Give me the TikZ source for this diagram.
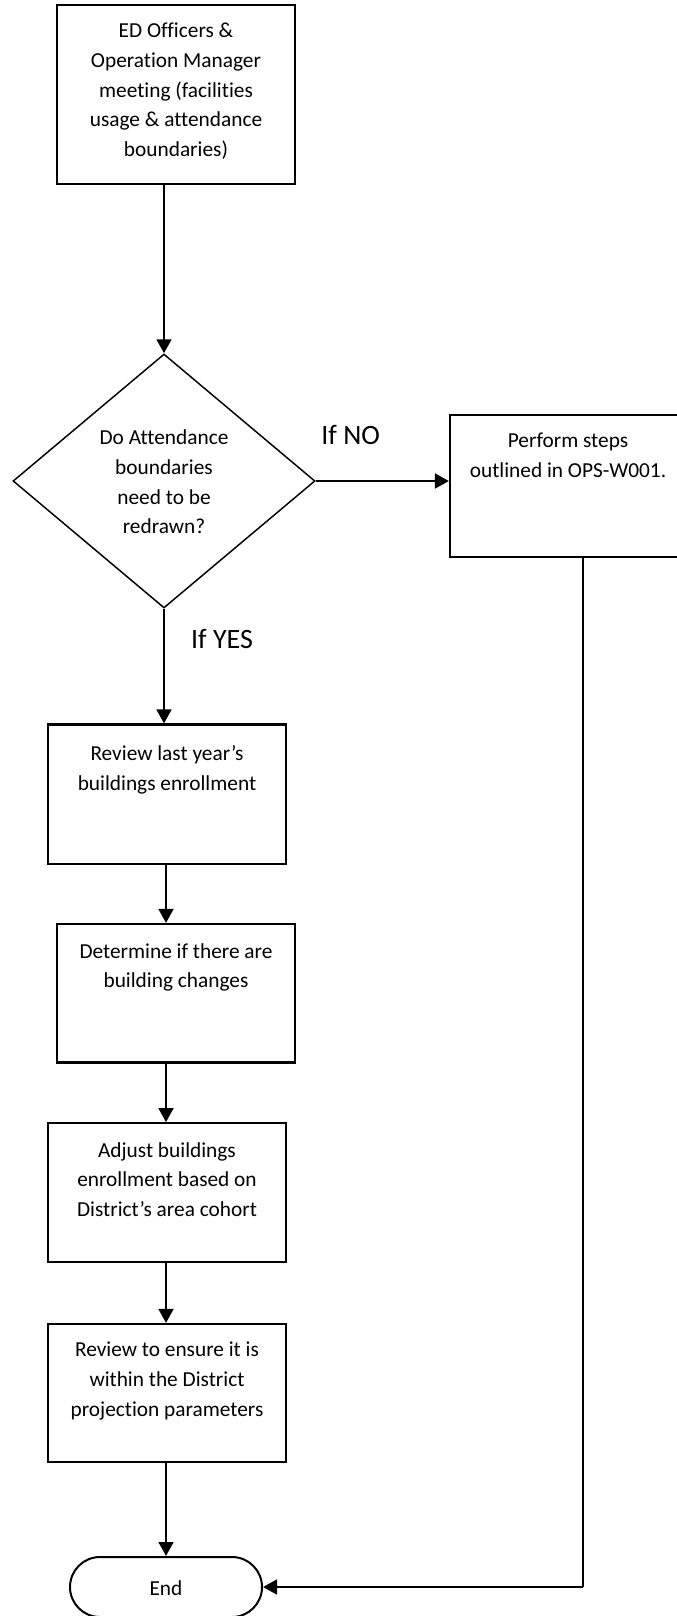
\documentclass[tikz,border=0pt]{standalone}
\usepackage{fontspec}
\setmainfont{Carlito}[RawFeature={-liga;-clig;-calt}]
\usetikzlibrary{arrows.meta,shapes.geometric,fit}
\begin{document}
\begin{tikzpicture}[x=0.75pt,y=-0.75pt,
  box/.style={draw, line width=1.6pt, rectangle, inner sep=0pt},
  txt/.style={font=\fontsize{16}{22.3}\selectfont, align=center, inner sep=0pt, anchor=north},
  lbl/.style={font=\fontsize{21}{25}\selectfont, inner sep=0pt},
  arr/.style={line width=2pt, -{Triangle[length=10.5pt,width=11pt]}},
  conn/.style={line width=2pt}]
\useasboundingbox (0,0) rectangle (676,1616);

% boxes
\node[box, fit={(56.9,5) (294.9,183.7)}] (b1) {};
\node[txt] (b1t) at (176,22.7) {ED Officers \&\\Operation Manager\\meeting (facilities\\usage \& attendance\\boundaries)};

\node[draw, diamond, line width=1.1pt, inner sep=0pt, minimum width=226.5pt, minimum height=190.5pt] (dia) at (164,481) {};
\node[txt, anchor=center] (diat) at (164,482) {Do Attendance\\boundaries\\need to be\\redrawn?};

\node[box, fit={(450,415) (686,557)}] (no) {};
\node[txt] (not) at (568,433) {Perform steps\\outlined in OPS-W001.};

\node[box, fit={(48.3,724.5) (285.8,863.8)}] (rev) {};
\node[txt] (revt) at (167,745) {Review last year’s\\buildings enrollment};

\node[box, fit={(57,924) (295,1062.5)}] (det) {};
\node[txt] (dett) at (176,943) {Determine if there are\\building changes};

\node[box, fit={(48.3,1123.2) (286,1261.6)}] (adj) {};
\node[txt] (adjt) at (167,1142) {Adjust buildings\\enrollment based on\\District’s area cohort};

\node[box, fit={(48.3,1324) (285.8,1462)}] (ens) {};
\node[txt] (enst) at (167,1342) {Review to ensure it is\\within the District\\projection parameters};

\node[draw, line width=1.5pt, rounded corners=22.5pt, inner sep=0pt, minimum width=144pt, minimum height=45pt] (end) at (166,1587) {};
\node[txt, anchor=center] (endt) at (166,1588) {End};

% labels
\node[lbl] (lno) at (350.7,435) {If NO};
\node[lbl] (lyes) at (222,639) {If YES};

% connectors
\coordinate (sp) at (166,0);
\coordinate (c1) at (583,1587);
\draw[arr] (b1.south -| dia.north) -- (dia.north);
\draw[arr] (dia.east) -- (dia.east -| no.west);
\draw[arr] (dia.south) -- (rev.north -| dia.south);
\draw[arr] (rev.south -| sp) -- (det.north -| sp);
\draw[arr] (det.south -| sp) -- (adj.north -| sp);
\draw[arr] (adj.south -| sp) -- (ens.north -| sp);
\draw[arr] (ens.south -| sp) -- (end.north);
\draw[conn] (c1 |- no.south) -- (c1);
\draw[arr] (c1) -- (end.east);
\end{tikzpicture}
\end{document}
